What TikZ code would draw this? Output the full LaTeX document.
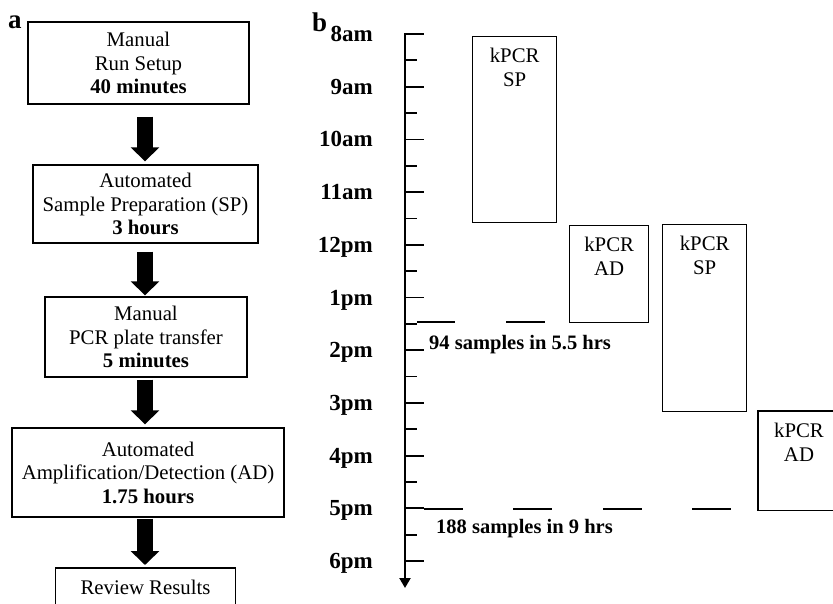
\documentclass[tikz,border=0pt]{standalone}
\usepackage{fontspec}
\setmainfont{Liberation Serif}
\usetikzlibrary{arrows.meta,calc}
\begin{document}
\begin{tikzpicture}[x=1pt,y=-1pt,
  box/.style={draw, line width=1.4pt, align=center, inner sep=0pt, font=\fontsize{20.8}{23.5}\selectfont},
  blk/.style={line width=16pt, -{Triangle[width=28pt,length=14pt]}},
  tl/.style={anchor=base east, inner sep=0pt, font=\fontsize{23}{26}\selectfont\bfseries},
  kbox/.style={draw, line width=1.4pt, inner sep=0pt, anchor=north west},
  ktext/.style={align=center, anchor=north, inner sep=0pt, font=\fontsize{20.8}{23.5}\selectfont},
  note/.style={anchor=base west, inner sep=0pt, font=\fontsize{20.5}{24}\selectfont\bfseries},
  panel/.style={anchor=base west, inner sep=0pt, font=\fontsize{27}{30}\selectfont\bfseries},
  dsh/.style={line width=1.8pt},
  tick/.style={line width=1.8pt}
]
\useasboundingbox (0,0) rectangle (833,603);
% ---------- panel a ----------
\node[panel] (la) at (8,28) {a};
\node[box, minimum width=221pt, minimum height=82pt] (b1) at (138.5,63) {Manual\\Run Setup\\\textbf{40 minutes}};
\node[box, minimum width=225pt, minimum height=78pt] (b2) at (145.5,204) {Automated\\Sample Preparation (SP)\\\textbf{3 hours}};
\node[box, minimum width=202pt, minimum height=80pt] (b3) at (146,337) {Manual\\PCR plate transfer\\\textbf{5 minutes}};
\node[box, minimum width=272pt, minimum height=89pt] (b4) at (148,472.5) {Automated\\Amplification/Detection (AD)\\\textbf{1.75 hours}};
\node[box, draw=none, minimum width=179pt, anchor=north, inner ysep=11pt] (b5) at (145.5,568) {Review Results};
\draw[line width=1.4pt] (b5.south west) -- (b5.north west) -- (b5.north east) -- (b5.south east);
\coordinate (ax) at (145,0);
\draw[blk] ($(b1.south -| ax)+(0,12)$) -- ($(b2.north -| ax)+(0,-3)$);
\draw[blk] ($(b2.south -| ax)+(0,8)$) -- ($(b3.north -| ax)+(0,-1)$);
\draw[blk] ($(b3.south -| ax)+(0,2)$) -- ($(b4.north -| ax)+(0,-3)$);
\draw[blk] ($(b4.south -| ax)+(0,1)$) -- ($(b5.north -| ax)+(0,-3)$);
% ---------- panel b ----------
\node[panel] (lb) at (312,31) {b};
\draw[line width=2.2pt, -{Triangle[width=11pt,length=10pt]}] (405,33) -- (405,588);
\foreach \h in {0,...,10} \draw[tick] (405,{34+52.7*\h}) -- (424,{34+52.7*\h});
\foreach \h in {0,...,9} \draw[tick] (405,{34+52.7*(\h+0.5)}) -- (417,{34+52.7*(\h+0.5)});
\foreach \t [count=\i from 0] in {8am,9am,10am,11am,12pm,1pm,2pm,3pm,4pm,5pm,6pm}
  \node[tl] (t\i) at (373,{34+52.7*\i+7.5}) {\t};
% boxes
\node[kbox, minimum width=84pt, minimum height=186pt] (r1) at (472,36) {};
\node[ktext] (r1t) at ($(r1.north)+(0,12)$) {kPCR\\SP};
\node[kbox, minimum width=79pt, minimum height=97pt] (r2) at (569,225) {};
\node[ktext] (r2t) at ($(r2.north)+(0,12)$) {kPCR\\AD};
\node[kbox, minimum width=84pt, minimum height=187pt] (r3) at (662,224) {};
\node[ktext] (r3t) at ($(r3.north)+(0,12)$) {kPCR\\SP};
\node[kbox, draw=none, minimum width=75pt, minimum height=98pt] (r4) at (758,411) {};
\draw[line width=1.4pt] (r4.north east) -- (r4.north west) -- (r4.south west) -- (r4.south east);
\node[ktext] (r4t) at (799,423) {kPCR\\AD};
% dashed guide lines
\draw[dsh] (417,322) -- (455,322);
\draw[dsh] (506,322) -- (545,322);
\draw[dsh] (424,509) -- (463,509);
\draw[dsh] (513,509) -- (552,509);
\draw[dsh] (603,509) -- (642,509);
\draw[dsh] (692,509) -- (731,509);
\node[note] (n94) at (429,349) {94 samples in 5.5 hrs};
\node[note] (n188) at (436,533) {188 samples in 9 hrs};
\end{tikzpicture}
\end{document}
